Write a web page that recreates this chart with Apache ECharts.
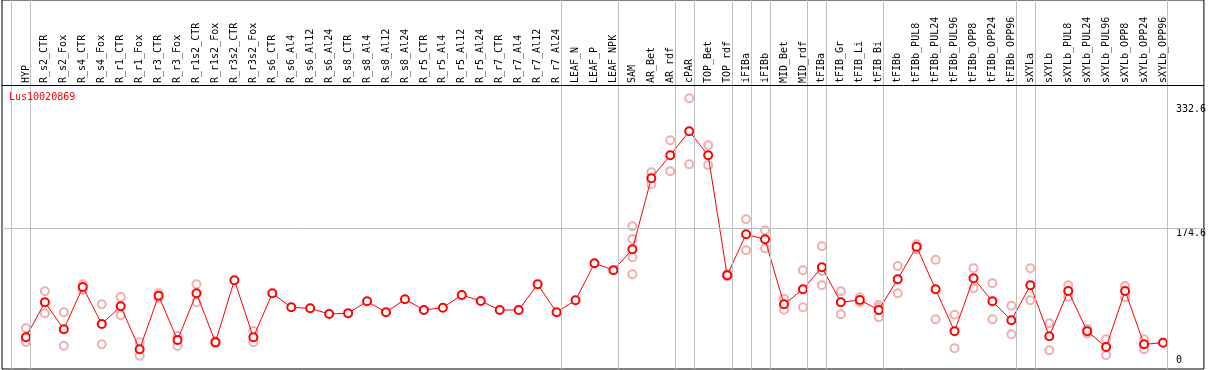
<!DOCTYPE html>
<html>
<head>
<meta charset="utf-8">
<script src="https://cdn.jsdelivr.net/npm/echarts@6/dist/echarts.min.js"></script>
<style>
html,body{margin:0;padding:0;background:#fff;}
#chart{width:1209px;height:370px;}
</style>
</head>
<body>
<div id="chart"></div>
<script>
const geneName = 'Lus10020869';
const categories = ['HYP','R_s2_CTR','R_s2_Fox','R_s4_CTR','R_s4_Fox','R_r1_CTR','R_r1_Fox','R_r3_CTR','R_r3_Fox','R_r1s2_CTR','R_r1s2_Fox','R_r3s2_CTR','R_r3s2_Fox','R_s6_CTR','R_s6_Al4','R_s6_Al12','R_s6_Al24','R_s8_CTR','R_s8_Al4','R_s8_Al12','R_s8_Al24','R_r5_CTR','R_r5_Al4','R_r5_Al12','R_r5_Al24','R_r7_CTR','R_r7_Al4','R_r7_Al12','R_r7_Al24','LEAF_N','LEAF_P','LEAF_NPK','SAM','AR_Bet','AR_rdf','cPAR','TOP_Bet','TOP_rdf','iFIBa','iFIBb','MID_Bet','MID_rdf','tFIBa','tFIB_Gr','tFIB_Li','tFIB_Bi','tFIBb','tFIBb_PUL8','tFIBb_PUL24','tFIBb_PUL96','tFIBb_OPP8','tFIBb_OPP24','tFIBb_OPP96','sXYLa','sXYLb','sXYLb_PUL8','sXYLb_PUL24','sXYLb_PUL96','sXYLb_OPP8','sXYLb_OPP24','sXYLb_OPP96'];
const means = [36.1,80.7,46.3,100.1,53.1,75.6,20.9,89.1,32.7,92.1,29.8,108.7,36.1,92.1,74.3,73.0,65.8,66.7,81.9,67.9,84.5,70.9,73.8,90.0,82.3,70.9,70.9,103.6,67.9,83.2,130.3,121.6,148.1,238.5,267.7,298.3,267.7,115.0,167.2,160.8,78.1,97.2,125.2,80.7,83.6,70.9,110.1,151.4,97.2,43.8,111.2,81.9,57.8,102.3,37.4,95.1,43.8,23.8,95.1,27.2,29.3];
const replicates = [[47.6,32.7,30.2],[94.7,66.7],[67.9,25.4],[103.6,96.6],[78.1,27.2],[87.4,64.1],[29.8,12.7],[92.1,86.1],[37.8,25.1],[103.6,80.7],[31.5,28.1],[],[44.2,29.8],[],[],[],[],[],[],[],[],[],[],[],[],[],[],[],[],[],[],[],[177.4,161.2,137.9,116.3],[246.1,230.8],[286.8,247.4],[340.2,256.3],[280.4,255.0],[116.5,113.5],[186.3,146.8],[172.3,149.4],[85.3,71.3],[121.4,74.3],[151.9,120.5,102.3],[94.7,65.4],[87.0,80.7],[77.2,61.6,74.0],[126.7,92.1],[154.5,148.3],[134.9,59.0],[64.9,22.1],[123.9,98.5],[104.8,59.0],[76.3,40.0],[123.9,83.2],[53.9,19.6],[102.3,87.8],[46.7,40.9],[33.6,13.2],[101.4,87.0],[33.6,21.0],[]];
const groupSeparatorsAfter = [-1,0,28,31,34,35,37,38,39,41,42,45,52,53,60];
const yTickLabels = [174.6, 332.6];
const yZeroLabel = [0];
const yRefLine = 174.6;

const FONT = 'DejaVu Sans Mono';
const meanData = means.map((v, i) => [i, v]);
const repData = [];
replicates.forEach((arr, i) => arr.forEach(v => repData.push([i, v])));

const chart = echarts.init(document.getElementById('chart'), null, {renderer: 'canvas'});
// value scale shared by the plot area and the label header above it
const yMin = -4.2, yMax = 465.3, headerEdge = 357.2;
chart.setOption({
  animation: false,
  backgroundColor: '#fff',
  title: {
    text: geneName, left: 4, top: 87,
    textStyle: {color: '#ff0000', fontFamily: FONT, fontSize: 10, fontWeight: 'normal'}
  },
  grid: {left: 2, right: 2, top: 0, bottom: 1, show: true, borderColor: '#000', borderWidth: 1, backgroundColor: 'transparent'},
  xAxis: {
    type: 'value', min: -1.263, max: 62.158, position: 'top', offset: -85,
    axisLine: {show: false},
    axisTick: {show: false},
    splitLine: {show: false},
    axisLabel: {
      customValues: categories.map((c, i) => i),
      formatter: v => categories[Math.round(v)] || '',
      rotate: 90, margin: 2, fontFamily: FONT, fontSize: 10, color: '#000',
      showMinLabel: true, showMaxLabel: true, hideOverlap: false
    }
  },
  yAxis: [{
    type: 'value', min: yMin, max: yMax, position: 'right',
    axisLine: {show: false}, axisTick: {show: false}, splitLine: {show: false},
    axisLabel: {
      inside: true, customValues: yTickLabels, formatter: v => String(v),
      align: 'left', verticalAlign: 'top', margin: 28,
      fontFamily: FONT, fontSize: 10, color: '#000'
    }
  }, {
    type: 'value', min: yMin, max: yMax, position: 'right',
    axisLine: {show: false}, axisTick: {show: false}, splitLine: {show: false},
    axisLabel: {
      inside: true, customValues: yZeroLabel, formatter: v => String(v),
      align: 'left', verticalAlign: 'bottom', margin: 28,
      fontFamily: FONT, fontSize: 10, color: '#000'
    }
  }],
  series: [{
    type: 'scatter', name: 'replicates', data: repData,
    symbol: 'emptyCircle', symbolSize: 8,
    itemStyle: {color: '#ef9a9a', borderColor: '#ef9a9a', borderWidth: 1.3},
    z: 2, silent: true,
    markLine: {
      silent: true, symbol: 'none', animation: false,
      label: {show: false},
      lineStyle: {color: '#c0c0c0', width: 1, type: 'solid'},
      data: groupSeparatorsAfter.map(i => ({xAxis: i + 0.25}))
        .concat([{yAxis: yRefLine}, {yAxis: headerEdge, lineStyle: {color: '#000', width: 1}}])
    }
  }, {
    type: 'line', name: geneName, data: meanData,
    symbol: 'emptyCircle', symbolSize: 8, showAllSymbol: true,
    lineStyle: {color: '#ff0000', width: 1},
    itemStyle: {color: '#ff0000', borderColor: '#ff0000', borderWidth: 1.4},
    z: 3, silent: true
  }]
});
</script>
</body>
</html>
